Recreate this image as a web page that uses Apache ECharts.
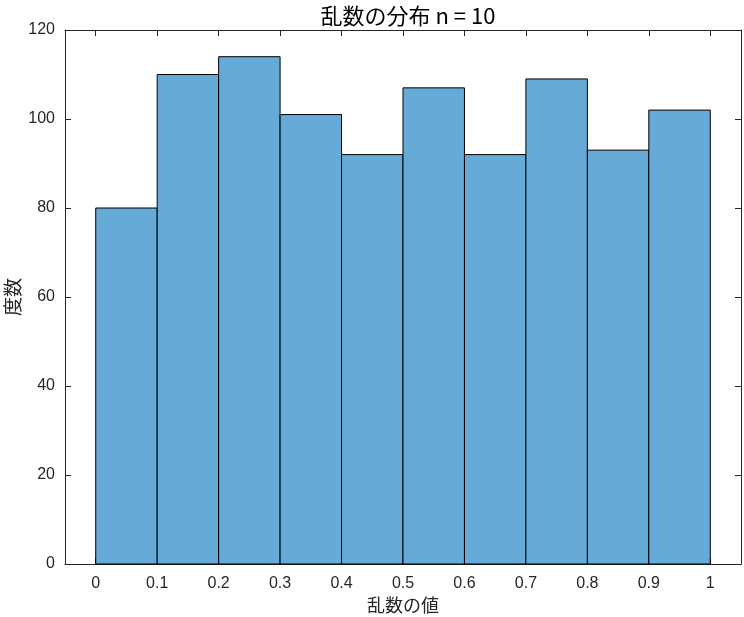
<!DOCTYPE html>
<html>
<head>
<meta charset="utf-8">
<script src="https://cdn.jsdelivr.net/npm/echarts@6/dist/echarts.min.js"></script>
<style>
  html, body { margin: 0; padding: 0; background: #fff; }
  #main { width: 744px; height: 617px; }
</style>
</head>
<body>
<div id="main"></div>
<script>
// histogram bins (edges) and counts
var binEdges = [0, 0.1, 0.2, 0.3, 0.4, 0.5, 0.6, 0.7, 0.8, 0.9, 1.0];
var counts = [80, 110, 114, 101, 92, 107, 92, 109, 93, 102];
var xTicks = [0, 0.1, 0.2, 0.3, 0.4, 0.5, 0.6, 0.7, 0.8, 0.9, 1];

var axisColor = '#262626';
var jpFont = '"Noto Sans CJK JP", sans-serif';
var numFont = '"Liberation Sans", Arial, sans-serif';

var barData = counts.map(function (c, i) {
    return [binEdges[i], binEdges[i + 1], c];
});

var myChart = echarts.init(document.getElementById('main'));

function boxAxis(extra) {
    return Object.assign({
        type: 'value',
        axisLine: { show: true, onZero: false, lineStyle: { color: axisColor, width: 1 } },
        axisTick: { show: true, inside: true, length: 6, lineStyle: { color: axisColor } },
        splitLine: { show: false }
    }, extra);
}

option = {
    animation: false,
    backgroundColor: '#fff',
    title: {
        text: '乱数の分布 n = 10',
        left: 403,
        top: 0,
        textAlign: 'center',
        textStyle: {
            fontFamily: jpFont,
            fontSize: 22,
            fontWeight: 'normal',
            color: '#000'
        }
    },
    grid: {
        left: 65,
        right: 3,
        top: 30,
        bottom: 53,
        containLabel: false,
        outerBoundsMode: 'none'
    },
    xAxis: [
        boxAxis({
            min: -0.05,
            max: 1.05,
            position: 'bottom',
            name: '乱数の値',
            nameLocation: 'middle',
            nameGap: 32,
            nameMoveOverlap: false,
            nameTextStyle: { fontFamily: jpFont, fontSize: 18, color: axisColor },
            axisTick: { show: true, inside: true, length: 6, customValues: xTicks, lineStyle: { color: axisColor } },
            axisLabel: {
                customValues: xTicks,
                margin: 12,
                fontFamily: numFont,
                fontSize: 16,
                color: axisColor,
                formatter: function (v) { return String(v); }
            }
        }),
        boxAxis({
            min: -0.05,
            max: 1.05,
            position: 'top',
            axisTick: { show: true, inside: true, length: 6, customValues: xTicks, lineStyle: { color: axisColor } },
            axisLabel: { show: false }
        })
    ],
    yAxis: [
        boxAxis({
            min: 0,
            max: 120,
            interval: 20,
            position: 'left',
            name: '度数',
            nameLocation: 'middle',
            nameGap: 43,
            nameRotate: 90,
            nameMoveOverlap: false,
            nameTextStyle: { fontFamily: jpFont, fontSize: 19, color: axisColor },
            axisLabel: {
                margin: 10,
                fontFamily: numFont,
                fontSize: 16,
                color: axisColor
            }
        }),
        boxAxis({
            min: 0,
            max: 120,
            interval: 20,
            position: 'right',
            axisLabel: { show: false }
        })
    ],
    series: [
        {
            type: 'custom',
            xAxisIndex: 0,
            yAxisIndex: 0,
            data: barData,
            encode: { x: [0, 1], y: 2 },
            renderItem: function (params, api) {
                var p0 = api.coord([api.value(0), 0]);
                var p1 = api.coord([api.value(1), api.value(2)]);
                return {
                    type: 'rect',
                    shape: {
                        x: p0[0],
                        y: p1[1],
                        width: p1[0] - p0[0],
                        height: p0[1] - p1[1]
                    },
                    style: {
                        fill: '#66aad7',
                        stroke: '#000',
                        lineWidth: 1
                    }
                };
            }
        }
    ]
};
myChart.setOption(option);
window.onresize = myChart.resize;
</script>
</body>
</html>
